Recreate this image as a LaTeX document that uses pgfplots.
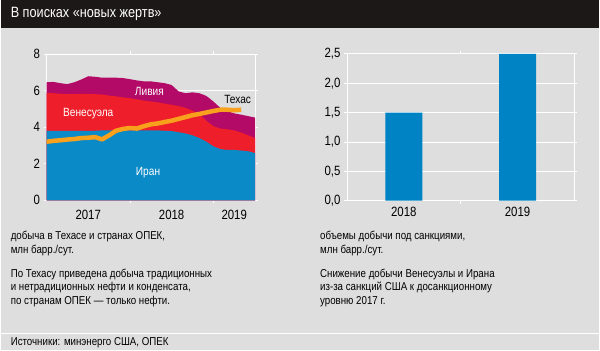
\documentclass[border=0pt]{standalone}
\usepackage{fontspec}
\setmainfont{Liberation Sans}[FakeStretch=0.85]
\usepackage{pgfplots}
\usepackage{pgfplotstable}
\pgfplotsset{compat=1.18}
\definecolor{bg}{HTML}{DEDEDE}
\definecolor{titlebg}{HTML}{1C1818}
\definecolor{iran}{HTML}{0A8AC6}
\definecolor{ven}{HTML}{EE1F2A}
\definecolor{lib}{HTML}{B20A66}
\definecolor{tex}{HTML}{F7A11C}
\definecolor{barc}{HTML}{0083C4}

% cumulative: iran, iran+venezuela, iran+venezuela+libya
\pgfplotstableread{
m iran iv total
0 3.80 5.85 6.45
1 3.80 5.85 6.47
2 3.80 5.82 6.40
3 3.80 5.80 6.35
4 3.80 5.80 6.45
5 3.80 5.82 6.60
6 3.80 5.82 6.78
7 3.80 5.80 6.75
8 3.82 5.78 6.70
9 3.82 5.72 6.70
10 3.82 5.68 6.70
11 3.82 5.62 6.68
12 3.82 5.58 6.62
13 3.82 5.52 6.55
14 3.82 5.45 6.50
15 3.82 5.40 6.50
16 3.82 5.35 6.45
17 3.80 5.28 6.40
18 3.78 5.22 6.30
19 3.72 5.15 5.95
20 3.65 5.05 5.85
21 3.55 4.90 5.90
22 3.40 4.70 5.85
23 3.20 4.35 5.70
24 2.95 4.05 5.40
25 2.80 3.92 5.05
26 2.75 3.88 4.88
27 2.75 3.82 4.75
28 2.72 3.70 4.68
29 2.68 3.55 4.60
30 2.58 3.40 4.52
}\opec

\pgfplotstableread{
m texas
0 3.20
1 3.25
2 3.28
3 3.32
4 3.35
5 3.40
6 3.42
7 3.45
8 3.33
9 3.55
10 3.80
11 3.90
12 3.95
13 3.92
14 4.05
15 4.15
16 4.20
17 4.28
18 4.35
19 4.45
20 4.55
21 4.65
22 4.72
23 4.80
24 4.88
25 4.95
26 4.95
27 4.92
28 4.95
}\texas

\begin{document}
\begin{tikzpicture}
\fill[bg] (0,0) rectangle (600bp,-351bp);
\fill[titlebg] (0,0) rectangle (600bp,-28bp);
\node[anchor=west, text=white, inner sep=0pt, font=\fontsize{15}{17}\selectfont] at (10bp,-14bp) {В поисках «новых жертв»};
\draw[white, line width=1.2bp] (0,-334bp) -- (600bp,-334bp);
\node[anchor=west, inner sep=0pt, font=\fontsize{11.5}{14}\selectfont] at (10bp,-343bp) {Источники: минэнерго США, ОПЕК};

\node[anchor=north west, inner sep=0pt, align=left, font=\fontsize{11.5}{14}\selectfont] at (10bp,-231bp) {добыча в Техасе и странах ОПЕК,\\млн барр./сут.};
\node[anchor=north west, inner sep=0pt, align=left, font=\fontsize{11.5}{14}\selectfont] at (10bp,-269bp) {По Техасу приведена добыча традиционных\\и нетрадиционных нефти и конденсата,\\по странам ОПЕК~--- только нефти.};
\node[anchor=north west, inner sep=0pt, align=left, font=\fontsize{11.5}{14}\selectfont] at (320bp,-231bp) {объемы добычи под санкциями,\\млн барр./сут.};
\node[anchor=north west, inner sep=0pt, align=left, font=\fontsize{11.5}{14}\selectfont] at (320bp,-269bp) {Снижение добычи Венесуэлы и Ирана\\из-за санкций США к досанкционному\\уровню 2017 г.};

\begin{axis}[
  at={(46bp,-200.7bp)}, anchor=south west, scale only axis,
  width=209bp, height=146.7bp,
  xmin=0, xmax=30, ymin=0, ymax=8,
  axis line style={white, line width=0.8bp},
  ytick={0,2,...,8}, ymajorgrids, grid style={white, line width=0.8bp},
  xtick={12,24}, xticklabels={},
  extra x ticks={6,18,27}, extra x tick labels={2017,2018,2019},
  extra x tick style={major tick length=0pt, xmajorgrids=false, ymajorgrids=false},
  tick style={white, line width=0.8bp}, tick align=outside, major tick length=3bp,
  ticklabel style={font=\fontsize{13.5}{13.5}\selectfont, text=black},
  xticklabel style={yshift=-6bp},
  /pgf/number format/assume math mode=true,
]
\addplot[draw=none, fill=lib] table[x=m, y=total] {\opec} \closedcycle;
\addplot[draw=none, fill=ven] table[x=m, y=iv] {\opec} \closedcycle;
\addplot[draw=none, fill=iran] table[x=m, y=iran] {\opec} \closedcycle;
\addplot[tex, line width=4.5bp, line join=round] table[x=m, y=texas] {\texas};
\node[text=white, font=\fontsize{12}{12}\selectfont] at (axis cs:14.8,5.93) {Ливия};
\node[text=white, font=\fontsize{12}{12}\selectfont] at (axis cs:6.0,4.73) {Венесуэла};
\node[text=white, font=\fontsize{12}{12}\selectfont] at (axis cs:14.6,1.51) {Иран};
\node[text=black, font=\fontsize{12}{12}\selectfont] at (axis cs:27.5,5.49) {Техас};
\end{axis}

\begin{axis}[
  at={(347bp,-201bp)}, anchor=south west, scale only axis,
  width=228bp, height=147bp,
  xmin=-0.5, xmax=1.5, ymin=0, ymax=2.5,
  axis line style={white, line width=0.8bp},
  ytick={0,0.5,...,2.5}, ymajorgrids, grid style={white, line width=0.8bp},
  yticklabel style={/pgf/number format/.cd, fixed, fixed zerofill, precision=1, use comma},
  xtick={0.5}, xticklabels={},
  extra x ticks={0,1}, extra x tick labels={2018,2019},
  extra x tick style={major tick length=0pt, xmajorgrids=false, ymajorgrids=false},
  tick style={white, line width=0.8bp}, tick align=outside, major tick length=3bp,
  ticklabel style={font=\fontsize{13.5}{13.5}\selectfont, text=black},
  xticklabel style={yshift=-3bp},
  /pgf/number format/assume math mode=true,
]
\addplot[ybar, bar width=0.325, fill=barc, draw=none] coordinates {(0,1.5) (1,2.5)};
\end{axis}
\end{tikzpicture}
\end{document}
